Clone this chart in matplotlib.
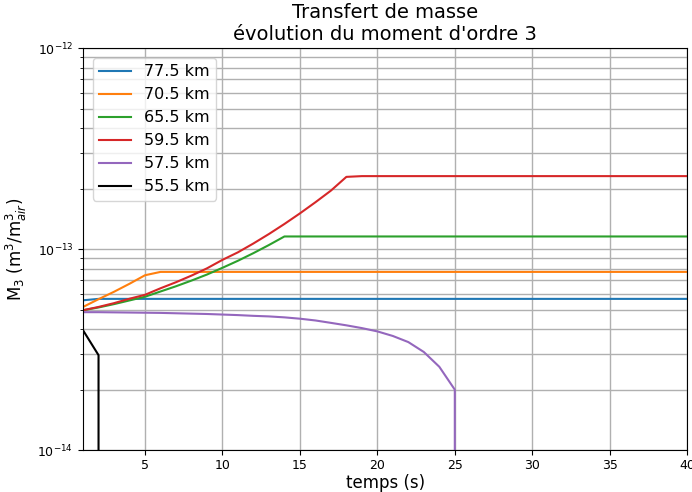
import numpy as np
import matplotlib
matplotlib.use('Agg')
import matplotlib.pyplot as plt

# temps (s)
temps = list(range(1, 41))

# M3 par altitude (m3/m3_air) -- 0 = plus de goutte
m3_775 = [5.57e-14] + [5.66e-14] * 39
m3_705 = [5.16e-14, 5.64e-14, 6.14e-14, 6.73e-14, 7.42e-14] + [7.71e-14] * 35
m3_655 = [4.97e-14, 5.13e-14, 5.33e-14, 5.56e-14, 5.80e-14, 6.16e-14, 6.54e-14,
          6.98e-14, 7.48e-14, 8.08e-14, 8.76e-14, 9.56e-14, 1.049e-13] + [1.157e-13] * 27
m3_595 = [4.97e-14, 5.16e-14, 5.39e-14, 5.67e-14, 5.93e-14, 6.39e-14, 6.85e-14,
          7.39e-14, 8.03e-14, 8.85e-14, 9.65e-14, 1.068e-13, 1.19e-13, 1.335e-13,
          1.507e-13, 1.712e-13, 1.956e-13, 2.29e-13] + [2.31e-13] * 22
m3_575 = [4.86e-14, 4.86e-14, 4.85e-14, 4.84e-14, 4.83e-14, 4.82e-14, 4.80e-14,
          4.78e-14, 4.76e-14, 4.73e-14, 4.70e-14, 4.66e-14, 4.63e-14, 4.58e-14,
          4.51e-14, 4.42e-14, 4.30e-14, 4.18e-14, 4.05e-14, 3.90e-14, 3.70e-14,
          3.45e-14, 3.08e-14, 2.60e-14, 2.00e-14] + [0.0] * 15
m3_555 = [3.95e-14, 2.97e-14] + [0.0] * 38

labels = ['77.5 km', '70.5 km', '65.5 km', '59.5 km', '57.5 km', '55.5 km']
colors = ['tab:blue', 'tab:orange', 'tab:green', 'tab:red', 'tab:purple', 'k']
series = [m3_775, m3_705, m3_655, m3_595, m3_575, m3_555]

fig, ax = plt.subplots(figsize=(6.92, 4.92), dpi=100)
fig.subplots_adjust(left=0.12, right=0.993, top=0.902, bottom=0.085)

for y, lab, c in zip(series, labels, colors):
    ax.plot(temps, y, color=c, label=lab, lw=1.5)

ax.set_yscale('log', nonpositive='clip')
ax.set_ylim(1e-14, 1e-12)
ax.set_xlim(1, 40)
ax.set_xticks([5, 10, 15, 20, 25, 30, 35, 40])
ax.grid(True, which='major', color='#b0b0b0', lw=1.0)
ax.grid(True, which='minor', axis='y', color='#b0b0b0', lw=1.0)
ax.tick_params(labelsize=9)
ax.tick_params(axis='x', pad=3)

ax.set_title("Transfert de masse\névolution du moment d'ordre 3", fontsize=14)
ax.set_xlabel('temps (s)', fontsize=12, labelpad=1)
ax.set_ylabel(r'M$_3$ (m$^3$/m$^3_{air}$)', fontsize=12, labelpad=6)
ax.legend(loc='upper left', fontsize=11.5, borderaxespad=0.6)

plt.savefig('out.png', dpi=100)
